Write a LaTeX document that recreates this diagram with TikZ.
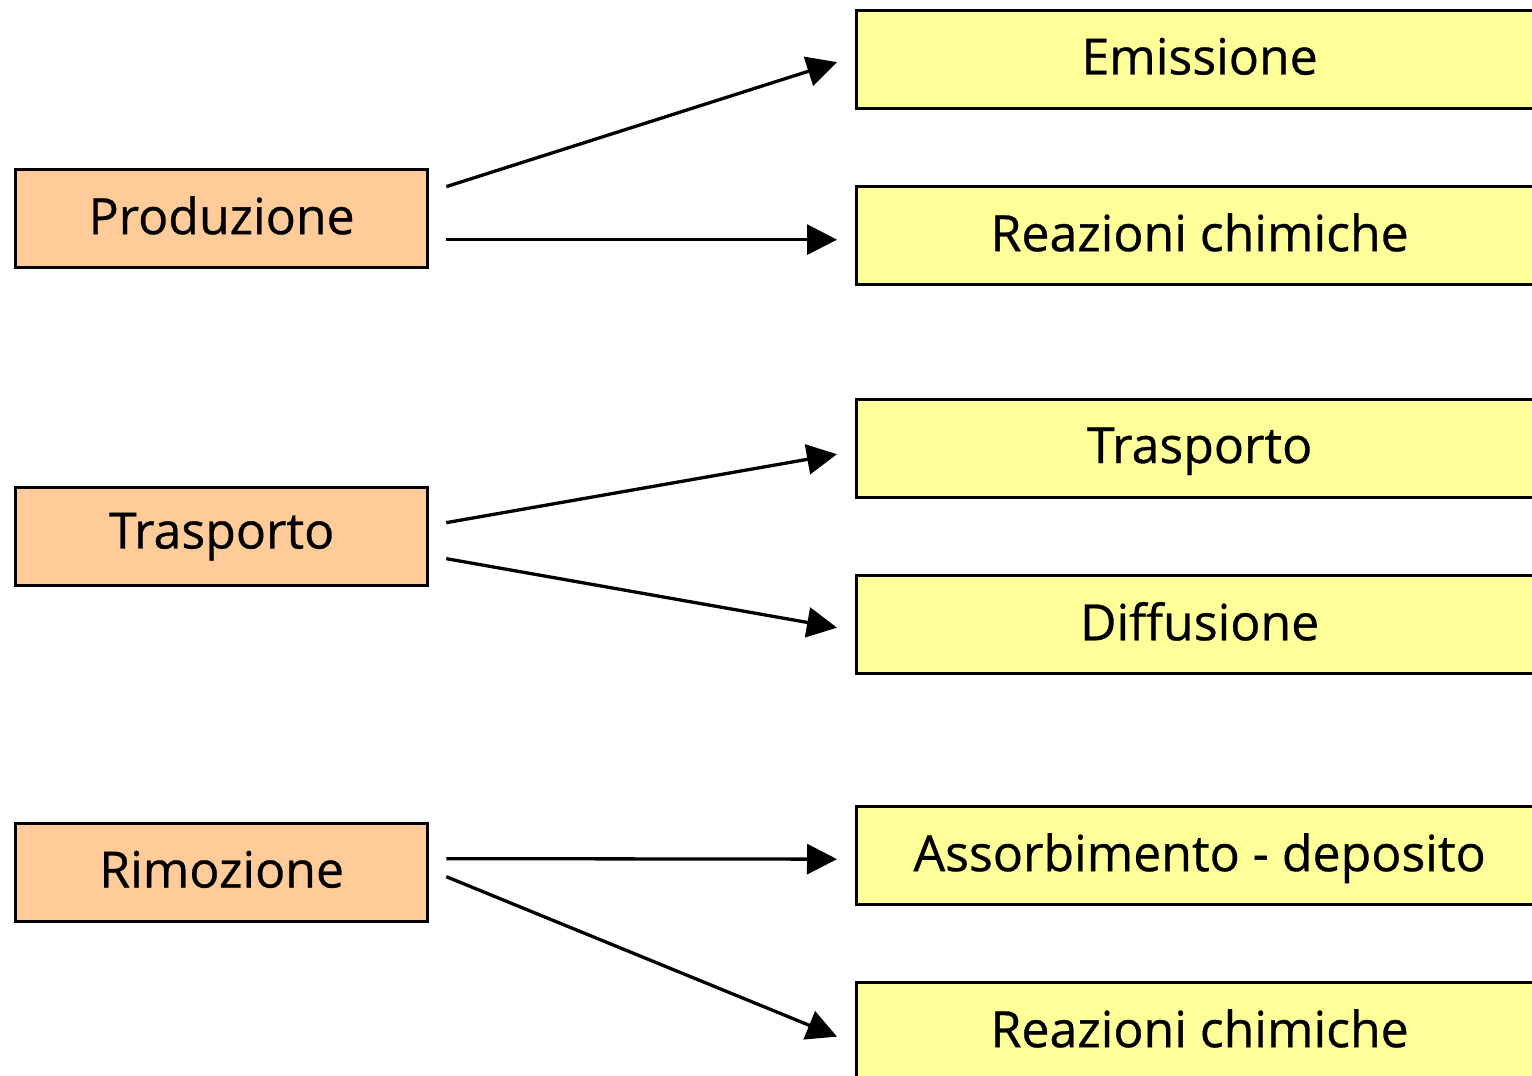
\documentclass[tikz,border=0pt]{standalone}
\usepackage{fontspec}
\setmainfont{Open Sans}[FakeBold=0.6]
\usetikzlibrary{arrows.meta}
\begin{document}
\begin{tikzpicture}[x=1pt,y=-1pt,
  lbox/.style={draw=black,line width=3.3pt,fill={rgb,255:red,255;green,204;blue,153},minimum width=412pt,minimum height=98pt,anchor=north west,inner sep=0pt,font=\fontsize{50}{60}\selectfont},
  rbox/.style={draw=black,line width=3.3pt,fill={rgb,255:red,255;green,255;blue,153},minimum width=686pt,minimum height=98pt,anchor=north west,inner sep=0pt,font=\fontsize{50}{60}\selectfont,text depth=0pt},
  conn/.style={line width=3.3pt,-{Triangle[length=30pt,width=30pt]}}]
\useasboundingbox (0,0) rectangle (1532,1076);
\clip (0,0) rectangle (1532,1076);
\node[lbox] (prod) at (14,168) {\raisebox{7pt}{Produzione}};
\node[lbox] (tras) at (14,486) {\raisebox{7pt}{Trasporto}};
\node[lbox] (rimo) at (14,822) {\raisebox{7pt}{Rimozione}};
\node[rbox] (emis) at (855,9) {\raisebox{7pt}{Emissione}};
\node[rbox] (rea1) at (855,185) {\raisebox{7pt}{Reazioni chimiche}};
\node[rbox] (tra2) at (855,398) {\raisebox{7pt}{Trasporto}};
\node[rbox] (diff) at (855,574) {\raisebox{7pt}{Diffusione}};
\node[rbox] (asso) at (855,805) {\raisebox{7pt}{Assorbimento - deposito}};
\node[rbox] (rea2) at (855,981) {\raisebox{7pt}{Reazioni chimiche}};
\draw[conn] ([xshift=17,yshift=32]prod.east) -- ([xshift=-18,yshift=-2.5]emis.west);
\draw[conn] ([xshift=17,yshift=-21]prod.east) -- ([xshift=-18,yshift=-4]rea1.west);
\draw[conn] ([xshift=17,yshift=14]tras.east) -- ([xshift=-18,yshift=-5.5]tra2.west);
\draw[conn] ([xshift=17,yshift=-22]tras.east) -- ([xshift=-18,yshift=-3]diff.west);
\draw[conn] ([xshift=17,yshift=14]rimo.east) -- ([xshift=-18,yshift=-3.5]asso.west);
\draw[conn] ([xshift=17,yshift=-4]rimo.east) -- ([xshift=-18,yshift=-5]rea2.west);
\end{tikzpicture}
\end{document}
